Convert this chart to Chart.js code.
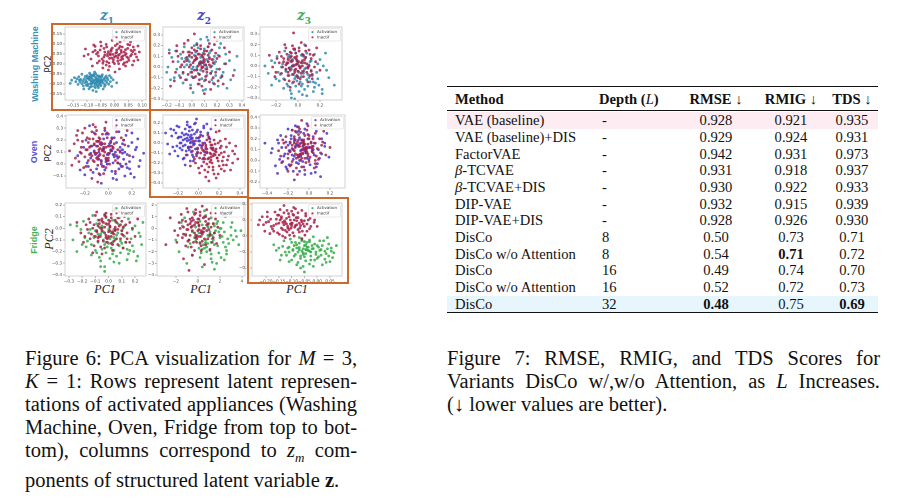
<!DOCTYPE html>
<html><head><meta charset="utf-8">
<script src="https://cdn.jsdelivr.net/npm/chart.js@4.4.0/dist/chart.umd.min.js"></script>
<style>
html,body{margin:0;padding:0;background:#fff;}
body{width:912px;height:503px;overflow:hidden;position:relative;font-family:'Liberation Serif',serif;color:#111;}
canvas{position:absolute;}
.frame{position:absolute;border:2px solid #cc6a2e;box-sizing:border-box;z-index:5;pointer-events:none;}
.zt{position:absolute;font-family:'DejaVu Serif',serif;font-weight:bold;font-style:italic;font-size:14px;transform:translate(-50%,-50%);line-height:1;}
.zt sub{font-size:9px;font-style:normal;}
.rl{position:absolute;font-family:'Liberation Sans',sans-serif;font-weight:bold;font-size:9px;transform:translate(-50%,-50%) rotate(-90deg);white-space:nowrap;line-height:1;}
.pc2{position:absolute;font-family:'DejaVu Sans',sans-serif;font-size:9px;color:#222;transform:translate(-50%,-50%) rotate(-90deg);white-space:nowrap;line-height:1;}
.pc2i{font-family:'Liberation Serif',serif;font-style:italic;font-size:12px;}
.pc1{position:absolute;font-family:'Liberation Serif',serif;font-style:italic;font-size:12px;color:#222;transform:translate(-50%,-50%);line-height:1;}
.cell{position:absolute;font-size:14.6px;height:18px;line-height:18px;white-space:nowrap;}
.c{text-align:center;width:70px;}
.rule{position:absolute;background:#111;}
.band{position:absolute;}
.cap{position:absolute;font-size:20.5px;line-height:23px;}
.cap div{white-space:nowrap;}
.cap .j{text-align:justify;text-align-last:justify;}
</style>
</head><body>

<div class="zt" style="left:107px;top:17px;color:#3a8fb7">z<sub>1</sub></div>
<div class="zt" style="left:204px;top:17px;color:#4a3fc6">z<sub>2</sub></div>
<div class="zt" style="left:304px;top:17px;color:#3fae4f">z<sub>3</sub></div>

<div class="rl" style="left:35px;top:64px;color:#3a8fb7">Washing Machine</div>
<div class="rl" style="left:34px;top:152px;color:#5a4fd8">Oven</div>
<div class="rl" style="left:34px;top:240px;color:#44b356">Fridge</div>

<div class="pc2" style="left:48px;top:64px">PC2</div>
<div class="pc2" style="left:48px;top:153px">PC2</div>
<div class="pc2 pc2i" style="left:49px;top:239px">PC2</div>

<div class="pc1" style="left:105px;top:289px">PC1</div>
<div class="pc1" style="left:201px;top:289px">PC1</div>
<div class="pc1" style="left:297px;top:289px">PC1</div>

<div class="frame" style="left:51px;top:23px;width:100px;height:88px"></div>
<div class="frame" style="left:149px;top:109px;width:100px;height:89px"></div>
<div class="frame" style="left:247px;top:197px;width:102px;height:87px"></div>

<div id="table"></div>

<div class="cap" style="left:25px;top:346.5px;width:332px">
<div class="j">Figure 6: PCA visualization for <i>M</i> = 3,</div>
<div class="j"><i>K</i> = 1: Rows represent latent represen-</div>
<div class="j">tations of activated appliances (Washing</div>
<div class="j">Machine, Oven, Fridge from top to bot-</div>
<div class="j">tom), columns correspond to <i>z<sub style="font-size:13px">m</sub></i> com-</div>
<div>ponents of structured latent variable <b>z</b>.</div>
</div>

<div class="cap" style="left:447px;top:346.5px;width:433px">
<div class="j">Figure 7: RMSE, RMIG, and TDS Scores for</div>
<div class="j">Variants DisCo w/,w/o Attention, as <i>L</i> Increases.</div>
<div>(↓ lower values are better).</div>
</div>

<script>
// ---------------- DATA (flat x,y pairs) ----------------
// Washing machine, z1
const wm1Act = [-0.070,-0.080,-0.095,-0.072,-0.052,-0.090,-0.081,-0.061,-0.033,-0.083,-0.108,-0.094,-0.064,-0.105,-0.047,-0.066,-0.122,-0.077,-0.088,-0.099,-0.026,-0.070,-0.075,-0.052,-0.140,-0.088,-0.058,-0.118,-0.099,-0.058,-0.040,-0.097,-0.015,-0.088,-0.113,-0.110,-0.067,-0.070,-0.084,-0.085,-0.050,-0.078,-0.129,-0.064,-0.036,-0.112,-0.092,-0.124,-0.005,-0.079,-0.072,-0.040,-0.155,-0.081,-0.060,-0.094,-0.104,-0.083,-0.044,-0.054,-0.078,-0.132,-0.021,-0.101,-0.118,-0.051,-0.086,-0.070,-0.056,-0.060,-0.132,-0.102,-0.030,-0.060,-0.097,-0.108,-0.010,-0.112,-0.069,-0.118,-0.145,-0.068,-0.062,-0.084,-0.090,-0.046,-0.041,-0.125,0.008,-0.094,-0.111,-0.125,-0.076,-0.095,-0.054,-0.103,-0.160,-0.097,-0.083,-0.112,-0.018,-0.058,-0.100,-0.070,-0.047,-0.082,-0.125,-0.090,-0.066,-0.138];
const wm1ActB = [-0.065,-0.075,-0.078,-0.088,-0.058,-0.072,-0.090,-0.080,-0.045,-0.090,-0.072,-0.062,-0.083,-0.100,-0.055,-0.085,-0.100,-0.090,-0.068,-0.095,-0.038,-0.075,-0.092,-0.066,-0.062,-0.058,-0.110,-0.075,-0.049,-0.108,-0.074,-0.083,-0.086,-0.054,-0.028,-0.092,-0.118,-0.098,-0.060,-0.110,-0.080,-0.075,-0.035,-0.068,-0.097,-0.100,-0.053,-0.064,-0.070,-0.100,-0.106,-0.062,-0.043,-0.082,-0.088,-0.115,-0.024,-0.078,-0.064,-0.088,-0.115,-0.085,-0.077,-0.057,-0.051,-0.096,-0.094,-0.074,-0.033,-0.104,-0.127,-0.080,-0.068,-0.048,-0.082,-0.092,-0.059,-0.080,-0.102,-0.106,-0.012,-0.068,-0.136,-0.074,-0.073,-0.112,-0.046,-0.060,-0.088,-0.063];
const wm1Ina = [0.000,0.035,-0.025,0.050,0.022,0.020,-0.040,0.015,0.035,0.060,-0.012,0.072,0.015,0.002,-0.058,0.040,0.050,0.030,0.005,0.055,-0.030,-0.005,0.028,0.085,-0.070,0.068,0.062,0.048,-0.005,0.010,0.040,-0.010,-0.048,0.090,0.010,0.100,-0.018,0.028,0.072,0.070,-0.085,0.025,0.030,0.040,-0.035,0.060,0.018,-0.025,-0.062,0.005,0.055,0.095,-0.008,0.118,0.045,0.010,-0.095,0.048,0.080,0.035,-0.022,-0.030,0.008,0.070,-0.050,0.110,0.035,0.120,-0.105,0.075,0.065,-0.005,-0.015,0.045,0.025,0.058,-0.042,-0.020,0.090,0.060,-0.075,0.095,0.002,-0.040,0.048,0.078,-0.028,0.085,0.012,0.030,-0.060,0.058,0.070,0.015,-0.002,0.138,-0.038,0.035,0.038,0.045,-0.110,0.040,0.058,0.110,-0.020,0.005,0.020,0.088,0.085,0.090,-0.080,-0.010];
const wm1InaB = [0.005,0.040,-0.010,0.030,0.018,0.048,-0.022,0.062,0.030,0.025,-0.035,0.045,0.012,0.015,0.042,0.052,-0.008,0.080,0.024,0.068,-0.045,0.025,0.058,0.040,-0.015,0.052,0.003,0.092,0.036,0.006,-0.028,0.012,0.066,0.062,-0.052,0.070,0.014,0.043,-0.004,0.022,0.048,0.098,-0.038,0.078,0.026,0.034,-0.065,0.050,0.075,0.050,0.008,0.058,-0.018,-0.012,0.052,0.018,-0.030,0.098,0.020,0.110,-0.055,0.015,0.040,0.072,-0.005,0.048,0.032,-0.002,-0.078,0.060,0.068,0.085,-0.012,0.065,0.016,0.078,-0.042,0.004,0.085,0.020,-0.070,0.088,0.000,0.002,0.045,0.035,-0.025,0.040,0.060,0.068];
// Washing machine, z2
const wm2Act = [0.07,0.02,-0.05,0.08,0.18,0.10,0.02,-0.10,0.13,0.05,-0.12,-0.02,0.10,0.17,0.04,0.00,0.25,-0.05,-0.03,0.14,0.16,-0.12,-0.01,-0.05,0.07,0.09,0.30,0.06,-0.16,0.09,0.12,0.00,0.04,0.22,0.18,0.03,-0.07,-0.15,0.11,-0.21,-0.02,0.05,0.14,0.13,0.06,-0.07,0.22,0.18,-0.10,-0.08,0.09,0.06,0.02,0.11,0.20,-0.02,-0.19,0.00,0.15,-0.06,-0.01,-0.17,0.07,-0.03,0.27,0.12,-0.04,0.02,0.13,0.25,0.03,0.07,0.23,-0.10,-0.13,0.15,0.10,-0.13,0.05,0.18,0.17,0.07,-0.08,0.08,0.11,0.02,0.00,-0.02,0.34,-0.03,0.01,-0.24,0.21,-0.18,-0.17,-0.12,0.08,0.10,-0.06,0.19,0.36,0.10,-0.20,-0.05,0.28,-0.20,0.12,0.28];
const wm2ActB = [0.08,0.04,0.01,0.00,0.14,0.09,0.05,-0.06,0.11,-0.02,-0.02,0.10,0.19,0.05,0.03,0.14,0.12,-0.08,-0.06,0.00,0.09,0.13,0.16,-0.04,0.00,-0.09,0.21,0.11,-0.09,0.12,0.06,0.04,0.13,0.19,0.24,-0.08,-0.04,-0.12,0.10,0.02,0.04,0.08,0.17,-0.15,-0.11,0.05,0.08,-0.11,0.26,0.03,0.02,0.20,0.15,0.15,-0.07,-0.06,0.12,0.07,0.06,-0.16,0.19,-0.08,-0.14,-0.10,0.31,-0.12,0.07,0.26,-0.03,0.07,0.23,0.22,0.09,-0.22,-0.18,0.16,0.16,0.01,0.04,-0.02];
const wm2Ina = [0.06,0.03,0.00,0.09,0.15,0.00,-0.03,-0.07,0.10,0.12,-0.08,0.02,0.12,-0.05,0.04,0.15,0.20,0.08,-0.05,-0.12,0.08,-0.01,0.01,0.04,0.17,-0.10,-0.11,0.10,0.07,0.20,0.13,0.05,-0.02,0.00,0.22,-0.02,0.05,-0.16,-0.07,0.14,0.10,0.07,0.02,-0.03,0.16,0.16,-0.13,-0.05,0.08,0.11,0.03,-0.09,0.19,0.13,-0.04,0.06,0.11,-0.12,0.27,0.03,-0.15,0.05,0.06,-0.07,0.14,0.22,0.00,0.18,0.09,0.00,-0.09,-0.10,0.24,-0.09,0.04,0.08,-0.01,-0.20,0.12,0.15,0.18,-0.16,-0.06,0.22,0.07,0.05,0.30,0.14,-0.18,0.13,0.15,-0.21,0.02,0.31,0.10,-0.25,-0.12,0.20,0.20,0.25,-0.17,-0.18,0.33,-0.08,0.05,0.12,0.09,-0.04,-0.02,0.11,0.14,0.02];
const wm2InaB = [0.07,0.04,0.02,0.06,0.11,0.02,0.04,-0.03,0.09,0.09,-0.01,0.02,0.14,0.08,0.06,0.12,0.12,-0.02,-0.04,0.09,0.08,0.00,0.03,0.10,0.17,0.04,0.00,-0.05,0.10,0.15,0.05,0.01,0.15,-0.06,-0.06,0.05,0.07,0.17,0.13,0.11,0.01,-0.10,0.19,-0.05,-0.09,0.00,0.09,0.04,0.04,0.21,0.16,0.07,0.11,-0.09,-0.02,0.14,0.06,-0.12,0.22,0.10,-0.07,-0.05,0.13,0.19,0.02,0.16,0.21,-0.13,-0.12,0.15,0.08,-0.18,0.26,0.18,-0.03,0.25,0.03,0.07,0.10,0.05,0.14,-0.14,-0.14,-0.13,0.25,-0.16,0.18,0.21,0.00,0.13];
// Washing machine, z3
const wm3Act = [0.00,-0.05,-0.10,0.02,0.11,0.04,-0.05,-0.16,0.06,-0.03,-0.16,-0.08,0.03,0.10,-0.02,-0.10,0.18,-0.12,-0.09,0.08,0.09,-0.19,-0.06,-0.03,0.00,0.02,0.23,0.00,-0.21,0.03,0.05,-0.07,-0.03,0.15,0.12,-0.04,-0.13,-0.21,0.04,-0.27,-0.08,-0.02,0.07,0.08,-0.01,-0.14,0.15,0.11,-0.17,-0.14,0.02,-0.01,-0.05,0.06,0.13,-0.09,-0.27,-0.07,0.08,-0.13,-0.07,-0.23,0.00,-0.10,0.20,0.06,-0.11,-0.05,0.06,0.20,-0.04,0.01,0.16,-0.16,-0.19,0.09,0.03,-0.19,-0.02,0.12,0.10,0.01,-0.14,0.02,0.04,-0.05,-0.08,-0.09,0.28,-0.11,-0.06,-0.30,0.14,-0.24,-0.24,-0.18,0.01,0.04,-0.12,0.14,0.33,-0.18,-0.30,0.00,0.22,-0.26,0.25,0.12];
const wm3ActB = [0.01,-0.06,-0.06,-0.01,0.07,-0.02,-0.03,-0.12,0.04,0.03,-0.11,-0.04,0.09,-0.08,-0.01,0.06,0.14,-0.15,-0.07,0.05,0.06,-0.22,-0.04,-0.08,0.02,-0.15,0.17,-0.06,-0.15,-0.01,0.03,-0.10,-0.08,0.10,0.10,-0.11,-0.10,-0.17,0.01,-0.24,-0.05,0.00,0.12,0.05,-0.02,-0.19,0.19,-0.18,-0.18,-0.06,0.05,0.09,-0.13,-0.12,0.08,-0.28,-0.06,-0.26,0.15,-0.20,0.22,-0.22,-0.20,-0.12,0.11,-0.15,-0.03,-0.31,0.26,-0.04,-0.24,0.05,0.04,-0.17,-0.09,-0.19,0.18,0.02,0.08,0.12];
const wm3Ina = [-0.02,0.01,-0.09,0.06,0.07,0.08,-0.05,-0.08,0.03,0.03,-0.14,-0.01,0.01,0.14,-0.04,0.00,0.12,-0.05,-0.10,0.11,0.05,-0.10,-0.07,-0.04,-0.02,0.07,0.16,0.04,-0.19,0.07,0.02,-0.01,-0.05,0.19,0.08,0.02,-0.12,-0.13,0.01,-0.17,-0.09,0.03,0.04,0.11,-0.03,-0.06,0.10,0.15,-0.15,-0.07,0.00,0.04,-0.06,0.09,0.09,-0.02,-0.23,-0.01,0.05,-0.05,-0.08,-0.14,-0.02,-0.03,0.14,0.10,-0.11,0.01,0.03,0.22,-0.05,0.05,0.11,-0.09,-0.17,0.13,0.00,-0.11,-0.03,0.16,0.06,0.06,-0.13,0.07,0.01,0.00,-0.08,-0.02,0.20,-0.04,-0.07,-0.20,0.09,-0.15,-0.21,-0.10,-0.01,0.09,-0.11,0.17,-0.04,0.31,0.17,0.17,-0.26,0.10,0.13,-0.12];
const wm3InaB = [-0.01,0.02,-0.06,0.04,0.04,0.05,-0.03,-0.04,0.02,-0.02,-0.10,0.03,0.05,0.10,-0.02,0.12,0.09,-0.01,-0.07,0.13,0.03,-0.07,-0.05,0.00,-0.01,0.05,0.12,0.07,-0.13,0.04,0.00,-0.05,-0.04,0.16,0.06,0.03,-0.09,-0.09,0.02,-0.12,-0.07,0.08,0.07,0.14,-0.01,-0.09,0.11,0.11,-0.11,-0.03,-0.03,0.08,-0.06,0.12,0.08,-0.06,-0.17,0.03,0.04,0.00,-0.09,-0.06,0.01,0.17,-0.15,0.09,0.13,-0.08,-0.04,-0.15,0.10,0.00,-0.20,-0.06,0.07,0.19,-0.12,0.20,0.15,-0.01];
// Oven, z1
const ov1Act = [0.00,0.08,-0.10,0.15,0.12,0.12,-0.04,-0.02,0.06,0.10,-0.15,0.05,0.03,0.22,-0.02,0.05,0.18,0.02,-0.09,0.19,0.09,-0.04,-0.06,0.03,0.00,0.15,0.23,0.12,-0.21,0.14,0.05,0.06,-0.03,0.28,0.12,0.09,-0.13,-0.07,0.04,-0.12,-0.08,0.10,0.07,0.18,-0.01,0.00,0.15,0.24,-0.17,-0.02,0.02,0.12,-0.05,0.17,0.13,0.04,-0.26,0.07,0.08,0.01,-0.07,-0.09,0.00,0.03,0.20,0.18,-0.11,0.08,0.06,0.31,-0.04,0.13,0.16,-0.03,-0.19,0.20,0.03,-0.06,-0.02,0.25,0.10,0.14,-0.14,0.15,0.04,0.08,-0.08,0.04,0.27,0.03,-0.06,-0.16,0.14,-0.10,-0.24,-0.05,0.01,0.17,-0.12,0.26,0.25,0.21,0.19,-0.08,-0.16,0.32,0.30,0.09];
const ov1ActB = [0.01,0.09,-0.05,0.12,0.07,0.07,-0.02,0.02,0.04,0.14,-0.09,0.06,0.10,0.00,0.02,0.19,0.14,0.10,-0.06,0.00,0.08,0.05,-0.12,0.11,0.05,0.22,0.17,0.15,-0.03,-0.05,0.11,-0.02,0.00,0.25,-0.15,0.09,0.21,0.06,0.06,-0.08,-0.07,0.17,0.13,0.20,0.03,0.11,0.18,-0.04,-0.10,-0.04,0.09,0.27,0.24,0.14,-0.01,0.08,0.15,0.00,0.07,-0.13,-0.18,0.01,0.12,0.17,0.20,0.26,0.26,-0.02,-0.04,0.21,0.16,0.08,0.04,0.01,0.10,0.11,-0.20,-0.09,0.22,-0.11];
const ov1Ina = [-0.08,0.12,-0.17,0.18,0.03,0.15,-0.12,0.02,-0.02,0.14,-0.23,0.09,-0.05,0.25,-0.10,0.09,0.09,0.06,-0.18,0.22,0.01,0.00,-0.14,0.07,-0.08,0.19,0.14,0.16,-0.29,0.17,-0.03,0.10,-0.11,0.31,0.04,0.13,-0.21,-0.03,-0.04,-0.08,-0.16,0.14,-0.01,0.22,-0.09,0.04,0.07,0.27,-0.25,0.02,-0.06,0.16,-0.13,0.21,0.05,0.08,-0.33,0.11,0.00,0.05,-0.15,-0.05,-0.08,0.07,0.11,0.22,-0.19,0.12,-0.02,0.35,-0.12,0.17,0.08,0.01,-0.27,0.24,-0.05,-0.02,-0.10,0.28,0.02,0.18,-0.22,0.19,-0.04,0.12,-0.16,0.08,0.18,0.07,-0.14,-0.12,0.06,-0.06,-0.31,-0.01,-0.07,0.21,-0.20,0.30,0.16,0.28,-0.09,-0.15,0.12,-0.02,-0.26,0.28,-0.01,0.03];
const ov1InaB = [-0.07,0.13,-0.12,0.10,-0.03,0.17,-0.10,0.05,-0.05,0.11,-0.15,0.15,0.00,0.09,-0.08,0.22,-0.13,0.03,-0.02,0.04,-0.18,0.12,-0.06,0.18,0.05,0.17,-0.11,0.25,-0.20,0.06,-0.04,0.14,-0.09,-0.01,0.02,0.11,-0.16,0.21,-0.07,0.08,-0.23,0.14,0.08,0.12,-0.12,0.16,-0.01,0.26,-0.17,0.03,-0.06,0.02,0.03,0.21,-0.14,0.27,-0.09,0.15,-0.26,0.20,0.10,0.10,-0.03,0.30,-0.19,-0.02,-0.11,0.09,0.06,0.03,-0.22,0.26,-0.04,0.07,-0.28,0.05,0.13,0.20,-0.13,0.33,-0.08,-0.08,0.01,0.15,-0.10,0.19,-0.24,0.10,-0.02,-0.03];
// Oven, z2
const ov2Act = [-0.08,0.00,-0.17,0.06,0.02,0.08,-0.12,-0.08,-0.03,0.02,-0.21,-0.03,-0.06,0.13,-0.10,-0.04,0.07,-0.06,-0.16,0.10,-0.01,-0.10,-0.13,-0.02,-0.08,0.06,0.11,0.04,-0.26,0.07,-0.04,-0.01,-0.11,0.18,0.01,0.02,-0.20,-0.13,-0.05,-0.18,-0.15,0.03,-0.02,0.11,-0.09,-0.07,0.05,0.15,-0.23,-0.08,-0.07,0.04,-0.12,0.09,0.03,-0.03,-0.30,-0.01,-0.01,-0.06,-0.14,-0.15,-0.08,-0.04,0.09,0.10,-0.18,0.00,-0.03,0.20,-0.11,0.05,0.06,-0.09,-0.24,0.13,-0.06,-0.12,-0.09,0.16,0.00,0.05,-0.19,0.06,-0.05,0.00,-0.15,-0.03,0.14,-0.05,-0.13,-0.22,0.04,-0.16,-0.28,-0.11,-0.07,0.08,-0.19,0.16,0.12,0.14,-0.32,0.10,-0.02,0.24,0.08,0.19];
const ov2ActB = [-0.07,0.01,-0.13,0.04,-0.02,0.05,-0.10,-0.05,-0.05,-0.02,-0.17,0.00,-0.04,0.09,-0.09,0.12,0.01,-0.02,-0.14,0.08,-0.07,-0.09,-0.11,0.02,0.04,0.07,-0.20,0.05,-0.06,0.05,-0.03,-0.06,-0.16,-0.07,-0.08,0.16,0.06,0.00,-0.12,-0.12,-0.01,0.13,-0.22,0.10,-0.09,0.03,-0.05,-0.14,0.02,0.11,-0.18,-0.05,-0.10,0.08,0.08,-0.10,-0.25,-0.04,-0.04,0.19,-0.13,0.14,-0.08,-0.18,0.10,0.06,-0.21,0.17,-0.15,-0.16,0.00,0.02,-0.27,0.14,-0.11,0.21,0.05,0.17,-0.02,-0.11];
const ov2Ina = [0.12,-0.11,0.03,-0.05,0.22,-0.03,0.08,-0.21,0.17,-0.09,-0.02,-0.13,0.15,0.03,0.10,-0.15,0.28,-0.17,0.04,0.00,0.20,-0.23,0.06,-0.16,0.12,-0.05,0.33,-0.08,-0.07,-0.04,0.16,-0.12,0.09,0.08,0.22,-0.10,0.00,-0.25,0.15,-0.31,0.05,-0.08,0.19,0.00,0.11,-0.19,0.26,0.04,-0.03,-0.20,0.14,-0.07,0.07,-0.02,0.24,-0.14,-0.11,-0.12,0.19,-0.18,0.06,-0.27,0.12,-0.14,0.30,0.00,0.02,-0.10,0.17,0.11,0.08,-0.06,0.27,-0.22,-0.05,0.02,0.14,-0.24,0.10,0.05,0.21,-0.05,-0.01,-0.05,0.15,-0.11,0.05,-0.15,0.38,-0.16,0.07,-0.34,0.25,-0.28,-0.08,-0.23,0.13,-0.02,0.01,0.06,0.36,-0.03,0.10,-0.38,0.20,0.12,0.31,-0.27,0.18,-0.15];
const ov2InaB = [0.11,-0.10,0.06,-0.12,0.17,-0.06,0.09,-0.16,0.14,-0.13,0.04,-0.07,0.20,-0.12,0.12,-0.02,0.08,-0.09,0.23,-0.18,0.13,-0.20,0.01,-0.15,0.16,-0.01,0.10,-0.24,0.25,-0.09,0.07,-0.04,0.18,-0.15,-0.01,-0.09,0.14,-0.27,0.21,0.02,0.05,-0.19,0.29,-0.13,0.11,0.01,0.09,-0.29,0.24,-0.22,-0.04,-0.16,0.16,-0.08,0.03,-0.23,0.27,-0.04,0.12,-0.17,0.19,-0.31,-0.06,-0.08,0.33,-0.20,0.08,0.03,0.22,-0.26,0.13,-0.06,0.04,-0.02,0.35,-0.11,0.17,-0.35,0.01,-0.30];
// Oven, z3
const ov3Act = [-0.08,0.09,-0.18,0.16,0.04,0.13,-0.12,-0.02,-0.02,0.11,-0.23,0.06,-0.05,0.25,-0.10,0.05,0.10,0.02,-0.17,0.20,0.01,-0.04,-0.14,0.04,-0.08,0.16,0.15,0.13,-0.29,0.16,-0.03,0.07,-0.11,0.31,0.04,0.10,-0.21,-0.08,-0.04,-0.13,-0.16,0.11,-0.01,0.20,-0.09,0.00,0.07,0.27,-0.25,-0.01,-0.06,0.13,-0.13,0.19,0.05,0.05,-0.36,0.07,0.00,0.01,-0.15,-0.10,-0.08,0.04,0.12,0.20,-0.19,0.09,-0.02,0.34,-0.12,0.15,0.08,-0.03,-0.27,0.23,-0.05,-0.06,-0.10,0.27,0.02,0.16,-0.22,0.17,-0.04,0.09,-0.16,0.05,0.19,0.03,-0.14,-0.18,0.06,-0.11,-0.32,-0.05,-0.07,0.19,-0.20,0.29,-0.42,0.16,0.17,0.25,-0.30,-0.12,0.11,-0.15];
const ov3ActB = [-0.07,0.10,-0.13,0.13,-0.03,0.07,-0.10,0.03,-0.05,0.15,-0.18,0.09,0.00,0.12,-0.09,0.21,-0.15,0.01,-0.02,0.02,-0.20,0.14,-0.06,0.18,0.06,0.16,-0.12,0.26,-0.24,0.04,-0.04,0.11,-0.10,-0.03,0.03,0.08,-0.17,0.23,-0.08,0.06,-0.26,0.12,0.09,0.10,-0.14,0.18,-0.01,0.24,-0.19,-0.04,-0.06,-0.01,0.04,0.22,-0.16,0.28,-0.11,0.14,-0.30,0.19,0.12,0.06,-0.04,0.29,-0.22,-0.06,0.07,-0.06,-0.28,0.01,-0.09,-0.10,0.15,0.16,-0.35,0.11,-0.13,0.32,0.02,-0.12];
const ov3Ina = [-0.06,0.10,-0.14,0.16,0.03,0.13,-0.10,0.03,-0.02,0.12,-0.18,0.08,-0.04,0.23,-0.08,0.06,0.07,0.04,-0.14,0.20,0.00,-0.01,-0.11,0.05,-0.06,0.16,0.12,0.14,-0.24,0.16,-0.03,0.09,-0.09,0.29,0.03,0.11,-0.17,-0.04,-0.04,-0.09,-0.13,0.12,0.00,0.20,-0.07,0.02,0.06,0.25,-0.20,0.02,-0.05,0.14,-0.10,0.19,0.04,0.07,-0.29,0.09,0.01,0.03,-0.12,-0.07,-0.06,0.06,0.10,0.20,-0.15,0.10,-0.01,0.32,-0.09,0.15,0.06,0.00,-0.22,0.22,-0.03,-0.02,-0.08,0.26,0.02,0.17,-0.18,0.17,-0.03,0.10,-0.13,0.06,0.16,0.05,-0.11,-0.13,0.05,-0.07,-0.26,-0.02,-0.05,0.19,-0.16,0.28,0.14,0.27,-0.07,0.37,0.20,0.12,-0.20,-0.10,-0.01,0.06];
const ov3InaB = [-0.05,0.11,-0.10,0.13,-0.02,0.08,-0.08,0.05,-0.04,0.15,-0.14,0.09,0.01,0.12,-0.07,0.19,-0.12,0.02,-0.01,0.04,-0.16,0.14,-0.05,0.17,0.05,0.16,-0.10,0.24,-0.20,0.06,-0.03,0.12,-0.08,0.00,0.03,0.09,-0.14,0.22,-0.06,0.07,-0.22,0.12,0.08,0.11,-0.11,0.17,0.00,0.23,-0.16,-0.01,-0.04,0.02,0.04,0.20,-0.13,0.27,-0.09,0.13,-0.25,0.19,0.11,0.07,-0.02,0.28,-0.18,-0.05,0.06,-0.03,-0.07,-0.06,0.13,0.17,-0.27,0.04,-0.10,0.31,0.09,0.01,-0.01,0.15];
// Fridge, z1
const fr1Act = [0.00,-0.08,-0.10,-0.02,0.11,0.00,-0.05,-0.18,0.06,-0.06,-0.16,-0.11,0.03,0.07,-0.02,-0.12,0.18,-0.15,-0.09,0.04,0.09,-0.21,-0.06,-0.07,0.00,-0.01,0.23,-0.04,-0.21,-0.01,0.05,-0.10,-0.03,0.12,0.12,-0.07,-0.13,-0.23,0.04,-0.29,-0.08,-0.05,0.07,0.04,-0.01,-0.16,0.15,0.08,-0.17,-0.16,0.02,-0.04,-0.05,0.02,0.13,-0.12,-0.27,-0.10,0.08,-0.15,-0.07,-0.25,0.00,-0.13,0.20,0.02,-0.11,-0.08,0.06,0.16,-0.04,-0.03,0.16,-0.19,-0.19,0.06,0.03,-0.22,-0.02,0.09,0.10,-0.02,-0.14,-0.01,0.04,-0.08,-0.08,-0.12,0.25,-0.14,-0.06,-0.33,0.14,-0.27,-0.24,-0.20,0.01,0.01,-0.12,0.11,-0.03,-0.37,0.21,-0.28,-0.29,0.03,0.26,0.05];
const fr1ActB = [0.01,-0.09,-0.06,-0.05,0.07,-0.04,-0.03,-0.14,0.04,-0.01,-0.11,-0.07,0.09,-0.11,-0.01,0.03,0.14,-0.18,-0.07,0.01,0.06,-0.24,-0.04,-0.10,0.02,-0.17,0.17,-0.09,-0.15,-0.04,0.03,-0.12,-0.08,0.07,0.10,-0.13,-0.10,-0.19,0.01,-0.26,-0.05,-0.03,0.12,0.02,-0.02,-0.21,0.19,-0.20,-0.18,-0.08,0.05,0.06,-0.13,-0.14,0.08,-0.30,-0.06,-0.28,0.15,-0.22,0.22,-0.24,-0.20,-0.14,0.11,-0.17,-0.03,-0.33,0.24,-0.07,-0.24,0.02,0.04,-0.19,-0.09,-0.21,0.18,-0.01,0.08,0.09];
const fr1Ina = [0.00,-0.03,-0.08,0.02,0.09,0.03,-0.04,-0.11,0.05,-0.01,-0.13,-0.05,0.02,0.09,-0.02,-0.06,0.14,-0.09,-0.07,0.07,0.07,-0.14,-0.05,-0.02,0.00,0.04,0.18,0.00,-0.17,0.03,0.04,-0.05,-0.02,0.13,0.10,-0.02,-0.11,-0.15,0.03,-0.19,-0.06,0.00,0.05,0.07,-0.01,-0.09,0.12,0.10,-0.14,-0.09,0.01,0.01,-0.04,0.05,0.11,-0.06,-0.21,-0.04,0.06,-0.09,-0.06,-0.16,0.00,-0.07,0.16,0.05,-0.09,-0.03,0.04,0.15,-0.03,0.01,0.13,-0.12,-0.15,0.08,0.02,-0.13,-0.02,0.10,0.08,0.02,-0.11,0.03,0.03,-0.03,-0.07,-0.07,0.20,-0.07,-0.05,-0.22,0.11,-0.17,-0.19,-0.12,0.01,0.06,-0.10,0.11,0.05,0.17,-0.24,0.05,0.22,0.08,-0.12,-0.21,0.15,0.13];
const fr1InaB = [0.01,-0.02,-0.05,0.00,0.05,0.01,-0.02,-0.08,0.03,-0.04,-0.09,-0.02,0.06,0.05,0.00,0.07,0.10,-0.05,-0.05,0.08,0.04,-0.11,-0.03,-0.04,0.01,0.02,0.13,0.03,-0.12,0.00,0.02,-0.07,-0.03,0.11,0.07,-0.01,-0.08,-0.11,0.03,-0.14,-0.07,0.04,0.07,0.09,-0.01,-0.12,0.10,0.06,-0.10,-0.07,-0.02,0.04,-0.05,0.06,0.09,-0.09,-0.16,-0.01,0.05,-0.02,-0.08,-0.08,0.02,0.12,-0.14,0.05,0.14,-0.04,-0.03,-0.17,0.11,0.01,-0.18,-0.07,0.08,0.14,-0.09,0.14,0.16,-0.12];
// Fridge, z2
const fr2Act = [0.9,-0.6,-0.2,0.1,2.1,0.0,0.4,-1.8,1.5,-0.4,-0.8,-1.0,1.2,0.9,0.7,-1.2,2.8,-1.3,0.0,0.5,1.9,-2.1,0.3,-0.7,0.9,0.1,3.4,-0.2,-1.4,0.2,1.4,-1.0,0.6,1.5,2.2,-0.7,-0.5,-2.3,1.3,-2.9,0.1,-0.4,1.7,0.4,0.8,-1.6,2.5,1.0,-0.9,-1.6,1.1,-0.3,0.4,0.3,2.3,-1.2,-2.0,-1.0,1.8,-1.5,0.2,-2.5,0.9,-1.3,3.1,0.5,-0.3,-0.8,1.6,1.8,0.5,-0.3,2.6,-1.9,-1.2,0.9,1.2,-2.2,0.7,1.1,2.0,0.0,-0.6,0.1,1.3,-0.6,0.2,-1.2,3.7,-1.4,0.4,-3.3,2.4,-2.7,-1.7,-2.0,1.0,0.4,-0.4,1.4,3.0,-0.6,2.9,1.3,-1.0,-3.0,1.5,-3.5];
const fr2ActB = [1.0,-0.7,0.4,-0.3,1.6,-0.2,0.7,-1.0,1.3,-0.9,-0.1,-0.6,2.0,-0.8,0.9,0.2,0.5,-1.4,2.4,-0.3,1.1,-1.9,-0.5,-0.3,1.8,0.6,0.8,-2.0,2.7,-0.9,0.2,0.6,1.5,-1.4,-0.7,-1.3,1.2,-2.6,2.3,0.5,0.6,-1.7,3.2,-1.0,1.4,0.4,0.3,-2.1,2.6,-2.2,-1.1,-0.5,1.9,-0.3,0.1,-1.7,3.0,0.1,1.2,-1.2,2.1,-2.5,-1.5,0.5,3.5,-0.7,0.6,1.0,2.5,-1.6,1.5,0.2,-0.2,-1.1,3.9,-0.2,1.7,-3.0,2.2,1.4];
const fr2Ina = [0.0,-0.2,-0.9,0.3,0.9,0.4,-0.4,-1.2,0.5,0.0,-1.3,-0.5,0.2,1.1,-0.2,-0.6,1.4,-0.8,-0.7,0.8,0.7,-1.4,-0.5,-0.2,0.0,0.5,1.8,0.1,-1.7,0.5,0.4,-0.5,-0.2,1.6,1.0,-0.1,-1.1,-1.5,0.3,-1.9,-0.6,0.1,0.5,0.9,-0.1,-0.9,1.2,1.3,-1.4,-0.8,0.1,0.2,-0.4,0.7,1.1,-0.6,-2.1,-0.2,0.6,-0.9,-0.6,-1.6,0.0,-0.7,1.6,0.8,-0.9,-0.1,0.4,1.9,-0.3,0.3,1.3,-1.2,-1.5,1.2,0.2,-1.3,-0.2,1.3,0.8,0.3,-1.1,0.6,0.3,-0.2,-0.7,-0.6,2.0,-0.6,-0.5,-2.3,1.1,-1.8,-1.9,-1.2,0.1,0.8,-1.0,1.7,-2.9,-1.4,2.3,1.2,-1.3,-2.6,-2.5,0.9,0.6,-3.1,-0.8,-3.6];
const fr2InaB = [0.1,-0.1,-0.5,0.2,0.6,0.0,-0.2,-0.8,0.3,-0.4,-1.0,-0.1,0.7,0.6,0.0,0.8,1.1,-0.5,-0.6,0.6,0.4,-1.1,-0.3,-0.4,0.1,0.3,1.4,0.4,-1.3,0.1,0.2,-0.7,-0.3,1.2,0.8,-0.2,-0.9,-1.1,0.3,-1.5,-0.7,0.4,0.7,1.0,-0.1,-1.2,1.0,0.8,-1.1,-0.6,-0.2,0.5,-0.5,0.9,0.9,-0.9,-1.6,0.0,0.5,-0.3,-0.8,-1.0,0.2,1.4,-1.4,0.7,1.5,-0.4,-0.3,-1.9,1.2,0.1,-1.8,-0.6,0.8,1.6,-0.9,1.4,1.7,-1.3];
// Fridge, z3
const fr3Act = [-0.045,-0.085,-0.090,-0.060,0.005,-0.070,-0.065,-0.125,-0.020,-0.080,-0.110,-0.100,-0.030,-0.035,-0.055,-0.105,0.035,-0.110,-0.085,-0.040,0.000,-0.140,-0.070,-0.085,-0.045,-0.055,0.055,-0.075,-0.135,-0.065,-0.025,-0.100,-0.060,-0.015,0.010,-0.090,-0.100,-0.150,-0.030,-0.175,-0.080,-0.075,-0.010,-0.050,-0.050,-0.130,0.025,-0.030,-0.120,-0.120,-0.040,-0.070,-0.070,-0.045,0.015,-0.120,-0.160,-0.090,-0.005,-0.115,-0.075,-0.165,-0.045,-0.110,0.045,-0.050,-0.095,-0.090,-0.015,-0.005,-0.055,-0.080,0.030,-0.145,-0.130,-0.030,-0.025,-0.150,-0.060,-0.030,0.000,-0.060,-0.115,-0.075,-0.035,-0.090,-0.085,-0.115,0.065,-0.105,-0.065,-0.200,0.020,-0.180,-0.145,-0.150,-0.040,-0.040,-0.105,-0.020,0.075,-0.060,-0.050,-0.225,0.040,-0.010,-0.170,-0.055,0.050,-0.160];
const fr3ActB = [-0.040,-0.088,-0.070,-0.072,-0.015,-0.078,-0.055,-0.115,-0.030,-0.095,-0.095,-0.085,-0.005,-0.100,-0.050,-0.060,0.015,-0.085,-0.080,-0.055,-0.025,-0.125,-0.060,-0.095,-0.035,-0.070,0.030,-0.095,-0.110,-0.070,-0.020,-0.060,-0.065,-0.140,0.005,-0.130,-0.090,-0.125,-0.045,-0.155,-0.075,-0.100,0.020,-0.060,-0.010,-0.150,0.045,-0.125,-0.125,-0.100,-0.050,-0.035,-0.100,-0.040,0.040,-0.080,-0.140,-0.120,-0.030,-0.025,-0.080,-0.180,0.060,-0.135,-0.055,-0.190,0.010,-0.030,-0.150,-0.075,0.055,-0.095,-0.110,-0.160,-0.015,-0.190,0.035,-0.165,-0.070,-0.010];
const fr3Ina = [-0.105,0.075,-0.145,0.100,-0.060,0.090,-0.125,0.035,-0.080,0.070,-0.170,0.065,-0.092,0.130,-0.115,0.060,-0.030,0.045,-0.140,0.120,-0.070,0.025,-0.130,0.070,-0.105,0.100,-0.012,0.085,-0.190,0.090,-0.088,0.055,-0.118,0.160,-0.055,0.075,-0.155,0.020,-0.090,0.000,-0.135,0.085,-0.075,0.115,-0.110,0.040,-0.045,0.140,-0.175,0.045,-0.098,0.080,-0.120,0.110,-0.050,0.060,-0.210,0.070,-0.068,0.050,-0.148,0.010,-0.102,0.050,-0.028,0.110,-0.160,0.075,-0.085,0.170,-0.128,0.095,-0.040,0.030,-0.195,0.120,-0.095,0.020,-0.112,0.140,-0.062,0.100,-0.182,0.105,-0.100,0.065,-0.140,0.050,0.000,0.060,-0.125,-0.010,-0.048,0.005,-0.205,0.030,-0.080,0.095,-0.165,0.150,-0.020,0.135,-0.130,0.190,-0.225,0.100,-0.060,-0.020,-0.150,0.130];
const fr3InaB = [-0.100,0.080,-0.125,0.085,-0.085,0.065,-0.115,0.050,-0.090,0.100,-0.150,0.080,-0.070,0.080,-0.110,0.120,-0.135,0.040,-0.075,0.040,-0.160,0.105,-0.095,0.135,-0.050,0.095,-0.130,0.145,-0.180,0.060,-0.065,0.065,-0.118,0.025,-0.040,0.075,-0.155,0.130,-0.082,0.115,-0.200,0.085,-0.035,0.100,-0.140,0.110,-0.100,0.155,-0.170,0.030,-0.058,0.030,-0.075,0.145,-0.145,0.165,-0.120,0.075,-0.215,0.120,-0.025,0.060,-0.092,0.178,-0.185,0.015,-0.045,0.125,-0.108,0.005,-0.010,0.100,-0.195,0.150,-0.060,0.160,-0.135,0.000,-0.230,0.070];

// Axis ranges and ticks
const wm1XRange=[-0.179,0.114], wm1YRange=[-0.18,0.185];
const wm1XTicks=[-0.15,-0.10,-0.05,0,0.05,0.10], wm1XLabels=['−0.15','−0.10','−0.05','0.00','0.05','0.10'];
const wm1YTicks=[-0.15,-0.10,-0.05,0,0.05,0.10,0.15], wm1YLabels=['−0.15','−0.10','−0.05','0.00','0.05','0.10','0.15'];
const wm2XRange=[-0.23,0.416], wm2YRange=[-0.31,0.375];
const wm2XTicks=[-0.2,-0.1,0,0.1,0.2,0.3,0.4], wm2XLabels=['−0.2','−0.1','0.0','0.1','0.2','0.3','0.4'];
const wm2YTicks=[-0.3,-0.2,-0.1,0,0.1,0.2,0.3], wm2YLabels=['−0.3','−0.2','−0.1','0.0','0.1','0.2','0.3'];
const wm3XRange=[-0.345,0.4], wm3YRange=[-0.32,0.366];
const wm3XTicks=[-0.2,0,0.2], wm3XLabels=['−0.2','0.0','0.2'];
const wm3YTicks=[-0.3,-0.2,-0.1,0,0.1,0.2,0.3], wm3YLabels=['−0.3','−0.2','−0.1','0.0','0.1','0.2','0.3'];
const ov1XRange=[-0.36,0.32], ov1YRange=[-0.2,0.41];
const ov1XTicks=[-0.2,0,0.2], ov1XLabels=['−0.2','0.0','0.2'];
const ov1YTicks=[-0.1,0,0.1,0.2,0.3,0.4], ov1YLabels=['−0.1','0.0','0.1','0.2','0.3','0.4'];
const ov2XRange=[-0.345,0.45], ov2YRange=[-0.45,0.28];
const ov2XTicks=[-0.2,0,0.2,0.4], ov2XLabels=['−0.2','0.0','0.2','0.4'];
const ov2YTicks=[-0.4,-0.3,-0.2,-0.1,0,0.1,0.2], ov2YLabels=['−0.4','−0.3','−0.2','−0.1','0.0','0.1','0.2'];
const ov3XRange=[-0.467,0.343], ov3YRange=[-0.255,0.42];
const ov3XTicks=[-0.4,-0.2,0,0.2], ov3XLabels=['−0.4','−0.2','0.0','0.2'];
const ov3YTicks=[-0.2,-0.1,0,0.1,0.2,0.3,0.4], ov3YLabels=['−0.2','−0.1','0.0','0.1','0.2','0.3','0.4'];
const fr1XRange=[-0.33,0.283], fr1YRange=[-0.41,0.217];
const fr1XTicks=[-0.3,-0.2,-0.1,0,0.1,0.2], fr1XLabels=['−0.3','−0.2','−0.1','0.0','0.1','0.2'];
const fr1YTicks=[-0.4,-0.3,-0.2,-0.1,0,0.1,0.2], fr1YLabels=['−0.4','−0.3','−0.2','−0.1','0.0','0.1','0.2'];
const fr2XRange=[-3.7,4.27], fr2YRange=[-4.08,2.17];
const fr2XTicks=[-2,0,2,4], fr2XLabels=['−2','0','2','4'];
const fr2YTicks=[-4,-3,-2,-1,0,1,2], fr2YLabels=['−4','−3','−2','−1','0','1','2'];
const fr3XRange=[-0.255,0.097], fr3YRange=[-0.25,0.206];
const fr3XTicks=[-0.20,-0.15,-0.10,-0.05,0,0.05], fr3XLabels=['−0.20','−0.15','−0.10','−0.05','0.00','0.05'];
const fr3YTicks=[-0.2,-0.1,0,0.1,0.2], fr3YLabels=['−0.2','−0.1','0.0','0.1','0.2'];

const legendLabels=['Activation','Inactif'];

// Table data
const methods=['VAE (baseline)','VAE (baseline)+DIS','FactorVAE','<i>β</i>-TCVAE','<i>β</i>-TCVAE+DIS','DIP-VAE','DIP-VAE+DIS','DisCo','DisCo w/o Attention','DisCo','DisCo w/o Attention','DisCo'];
const depths=['-','-','-','-','-','-','-','8','8','16','16','32'];
const rmse=['0.928','0.929','0.942','0.931','0.930','0.932','0.928','0.50','0.54','0.49','0.52','0.48'];
const rmig=['0.921','0.924','0.931','0.918','0.922','0.915','0.926','0.73','0.71','0.74','0.72','0.75'];
const tds=['0.935','0.931','0.973','0.937','0.933','0.939','0.930','0.71','0.72','0.70','0.73','0.69'];
const bestRmse=11, bestRmig=8, bestTds=11;

// ---------------- STYLE / LAYOUT ----------------
const C_TEAL='rgba(46,139,176,0.85)', C_CRIM='rgba(166,32,72,0.85)', C_BLUE='rgba(70,50,200,0.85)', C_GREEN='rgba(52,172,72,0.85)';
const layout={
  wm1:{L:65,T:27,W:81,H:73}, wm2:{L:163,T:27,W:81,H:73}, wm3:{L:260,T:27,W:82,H:73},
  ov1:{L:66,T:115,W:80,H:73}, ov2:{L:163,T:115,W:82,H:73}, ov3:{L:260,T:115,W:85,H:73},
  fr1:{L:65,T:203,W:81,H:73}, fr2:{L:157,T:203,W:88,H:73}, fr3:{L:252,T:203,W:90,H:73}
};

function pts(flat){const o=[];for(let i=0;i<flat.length;i+=2)o.push({x:flat[i],y:flat[i+1]});return o;}

const miniLegend={
  id:'miniLegend',
  afterDatasetsDraw(chart){
    const {ctx,chartArea:a}=chart;
    const bw=32,bh=12.5,bx=a.right-bw-1.5,by=a.top+1.5;
    ctx.save();
    ctx.beginPath();
    if(ctx.roundRect) ctx.roundRect(bx,by,bw,bh,1.5); else ctx.rect(bx,by,bw,bh);
    ctx.fillStyle='rgba(255,255,255,0.85)';ctx.fill();
    ctx.strokeStyle='#d4d4d4';ctx.lineWidth=0.5;ctx.stroke();
    ctx.font='4px "DejaVu Sans"';ctx.textBaseline='middle';ctx.textAlign='left';
    chart.data.datasets.forEach((d,i)=>{
      const y=by+3.6+i*5.2;
      ctx.fillStyle=d.backgroundColor;ctx.beginPath();ctx.arc(bx+4,y,1.1,0,Math.PI*2);ctx.fill();
      ctx.fillStyle='#333';ctx.fillText(d.label,bx+8.5,y);
    });
    ctx.restore();
  },
  afterDraw(chart){
    const {ctx,chartArea:a}=chart;
    ctx.save();ctx.strokeStyle='#c8c8c8';ctx.lineWidth=0.8;
    ctx.strokeRect(a.left,a.top,a.right-a.left,a.bottom-a.top);ctx.restore();
  }
};

function axis(range,ticks,labels,isX){
  return {type:'linear',min:range[0],max:range[1],
    afterBuildTicks:s=>{s.ticks=ticks.map(v=>({value:v}));},
    afterFit:s=>{ if(isX){s.height=9;s.paddingLeft=0;s.paddingRight=0;} else {s.width=20;s.paddingTop=0;s.paddingBottom=0;} },
    ticks:{autoSkip:false,maxRotation:0,minRotation:0,padding:1,color:'#444',font:{size:4.2,family:'DejaVu Sans'},callback:(v,i)=>labels[i]},
    grid:{drawOnChartArea:false,drawTicks:true,tickLength:2,color:'#666',lineWidth:0.5},
    border:{display:false}
  };
}

function plot(key,act,ina,actColor,xr,xt,xl,yr,yt,yl){
  const p=layout[key];
  const padT=4,padR=6,yW=20,xH=9;
  const w=p.W+yW+padR,h=p.H+padT+xH;
  const cv=document.createElement('canvas');
  cv.width=w;cv.height=h;
  cv.style.left=(p.L-yW)+'px';cv.style.top=(p.T-padT)+'px';
  cv.style.width=w+'px';cv.style.height=h+'px';
  document.body.appendChild(cv);
  new Chart(cv,{type:'scatter',
    data:{datasets:[
      {label:legendLabels[0],data:pts(act),backgroundColor:actColor,borderWidth:0,pointRadius:1.4,order:2},
      {label:legendLabels[1],data:pts(ina),backgroundColor:C_CRIM,borderWidth:0,pointRadius:1.4,order:1}
    ]},
    options:{responsive:false,animation:false,devicePixelRatio:2,
      layout:{padding:{top:padT,right:padR,left:0,bottom:0}},
      plugins:{legend:{display:false},tooltip:{enabled:false}},
      scales:{x:axis(xr,xt,xl,true),y:axis(yr,yt,yl,false)}},
    plugins:[miniLegend]});
}

plot('wm1',wm1Act.concat(wm1ActB),wm1Ina.concat(wm1InaB),C_TEAL,wm1XRange,wm1XTicks,wm1XLabels,wm1YRange,wm1YTicks,wm1YLabels);
plot('wm2',wm2Act.concat(wm2ActB),wm2Ina.concat(wm2InaB),C_TEAL,wm2XRange,wm2XTicks,wm2XLabels,wm2YRange,wm2YTicks,wm2YLabels);
plot('wm3',wm3Act.concat(wm3ActB),wm3Ina.concat(wm3InaB),C_TEAL,wm3XRange,wm3XTicks,wm3XLabels,wm3YRange,wm3YTicks,wm3YLabels);
plot('ov1',ov1Act.concat(ov1ActB),ov1Ina.concat(ov1InaB),C_BLUE,ov1XRange,ov1XTicks,ov1XLabels,ov1YRange,ov1YTicks,ov1YLabels);
plot('ov2',ov2Act.concat(ov2ActB),ov2Ina.concat(ov2InaB),C_BLUE,ov2XRange,ov2XTicks,ov2XLabels,ov2YRange,ov2YTicks,ov2YLabels);
plot('ov3',ov3Act.concat(ov3ActB),ov3Ina.concat(ov3InaB),C_BLUE,ov3XRange,ov3XTicks,ov3XLabels,ov3YRange,ov3YTicks,ov3YLabels);
plot('fr1',fr1Act.concat(fr1ActB),fr1Ina.concat(fr1InaB),C_GREEN,fr1XRange,fr1XTicks,fr1XLabels,fr1YRange,fr1YTicks,fr1YLabels);
plot('fr2',fr2Act.concat(fr2ActB),fr2Ina.concat(fr2InaB),C_GREEN,fr2XRange,fr2XTicks,fr2XLabels,fr2YRange,fr2YTicks,fr2YLabels);
plot('fr3',fr3Act.concat(fr3ActB),fr3Ina.concat(fr3InaB),C_GREEN,fr3XRange,fr3XTicks,fr3XLabels,fr3YRange,fr3YTicks,fr3YLabels);

// ---------------- TABLE ----------------
(function(){
  const t=document.getElementById('table');
  const add=(html,cls,style)=>{const d=document.createElement('div');d.className=cls;d.style.cssText=style;d.innerHTML=html;t.appendChild(d);};
  add('','band','left:447px;top:112px;width:431px;height:16.5px;background:#fdedf2');
  add('','band','left:447px;top:295.5px;width:431px;height:16.5px;background:#e7f6fc');
  add('','rule','left:447px;top:85.5px;width:431px;height:1.3px');
  add('','rule','left:447px;top:110px;width:431px;height:0.8px');
  add('','rule','left:447px;top:312px;width:431px;height:1.3px');
  const colM=455,colD=600,colR=716,colG=791,colT=852;
  const hy=99-9;
  add('<b>Method</b>','cell','left:'+colM+'px;top:'+hy+'px');
  add('<b>Depth (</b><i>L</i><b>)</b>','cell','left:'+(colD-1)+'px;top:'+hy+'px');
  add('<b>RMSE ↓</b>','cell c','left:'+(colR-35)+'px;top:'+hy+'px');
  add('<b>RMIG ↓</b>','cell c','left:'+(colG-35)+'px;top:'+hy+'px');
  add('<b>TDS ↓</b>','cell c','left:'+(colT-35)+'px;top:'+hy+'px');
  methods.forEach((m,i)=>{
    const y=120.3+i*16.67-9;
    const b=(v,on)=>on?'<b>'+v+'</b>':v;
    add(m,'cell','left:'+colM+'px;top:'+y+'px');
    add(depths[i],'cell','left:'+(colD+2)+'px;top:'+y+'px');
    add(b(rmse[i],i===bestRmse),'cell c','left:'+(colR-35)+'px;top:'+y+'px');
    add(b(rmig[i],i===bestRmig),'cell c','left:'+(colG-35)+'px;top:'+y+'px');
    add(b(tds[i],i===bestTds),'cell c','left:'+(colT-35)+'px;top:'+y+'px');
  });
})();
</script>
</body></html>
